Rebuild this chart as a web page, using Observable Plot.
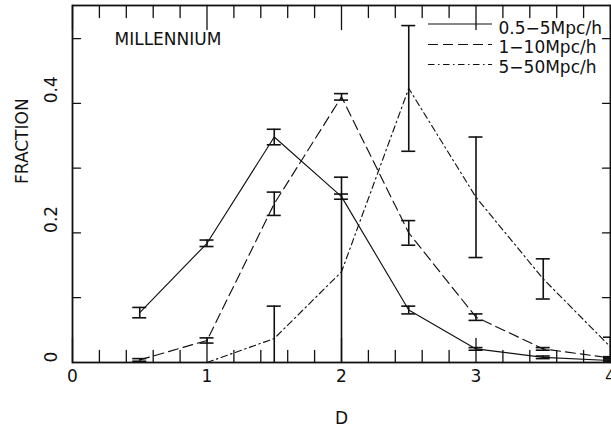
<!DOCTYPE html>
<html><head><meta charset="utf-8">
<script src="https://cdn.jsdelivr.net/npm/d3@7"></script>
<script src="https://cdn.jsdelivr.net/npm/@observablehq/plot@0.6"></script>
<style>body{margin:0;background:#fff}</style>
</head><body><div id="chart"></div>
<script>
// ---- data ----
const D = [0.5, 1, 1.5, 2, 2.5, 3, 3.5, 4];
const seriesNames = ["0.5−5Mpc/h", "1−10Mpc/h", "5−50Mpc/h"];
const fracSmall = [0.077, 0.184, 0.348, 0.256, 0.081, 0.021, 0.008, 0.003];
const errSmall  = [0.008, 0.005, 0.012, 0.004, 0.006, 0.002, 0.002, 0.001];
const fracMid   = [0.004, 0.034, 0.245, 0.410, 0.200, 0.070, 0.021, 0.007];
const errMid    = [0.002, 0.004, 0.018, 0.005, 0.019, 0.005, 0.002, 0.001];
const fracLarge = [null, 0.000, 0.037, 0.140, 0.423, 0.255, 0.129, 0.024];
const errLarge  = [null, 0.000, 0.050, 0.146, 0.097, 0.093, 0.031, 0.015];
const xTickLabels = [0, 1, 2, 3, 4];
const yTickLabels = [0, 0.2, 0.4];
const xMinorTicks = d3.range(0, 21).map(i => i / 5);
const yMinorTicks = [0.1, 0.2, 0.3, 0.4, 0.5];
const panelLabel = "MILLENNIUM";
const xLabel = "D";
const yLabel = "FRACTION";

// ---- layout ----
const W = 611, H = 434, mL = 72, mR = 1, mT = 5, mB = 72;
const xDom = [0, 4], yDom = [0, 0.551];
const px2x = px => xDom[0] + (px - mL) / (W - mL - mR) * (xDom[1] - xDom[0]);
const py2y = py => yDom[0] + (H - mB - py) / (H - mT - mB) * (yDom[1] - yDom[0]);

// ---- table ----
const fracs = [fracSmall, fracMid, fracLarge];
const errs = [errSmall, errMid, errLarge];
const rows = [];
seriesNames.forEach((s, k) => D.forEach((d, i) => {
  if (fracs[k][i] != null) rows.push({series: s, k, D: d, f: fracs[k][i], e: errs[k][i]});
}));
const bars = rows.filter(r => r.e > 0);
const dashes = ["none", "10,5", "6.5,3.5,1.5,3.5"];

const font = "DejaVu Sans";
const fs = 17;
const ink = "#111";

const tickShape = {draw(ctx, l) { ctx.moveTo(0, 0); ctx.lineTo(0, -l); }};
const isMajor = v => Math.abs(v - Math.round(v)) < 1e-9;

const marks = [];
// inward ticks on all four sides
marks.push(Plot.vector(xMinorTicks, {x: d => d, frameAnchor: "bottom", rotate: 0, anchor: "start", length: d => isMajor(d) ? 10 : 5, shape: tickShape, stroke: ink, strokeWidth: 1.3}));
marks.push(Plot.vector(xMinorTicks, {x: d => d, frameAnchor: "top", rotate: 180, anchor: "start", length: d => isMajor(d) ? 10 : 5, shape: tickShape, stroke: ink, strokeWidth: 1.3}));
marks.push(Plot.vector(yMinorTicks, {y: d => d, frameAnchor: "left", rotate: 90, anchor: "start", length: 8, shape: tickShape, stroke: ink, strokeWidth: 1.3}));
marks.push(Plot.vector(yMinorTicks, {y: d => d, frameAnchor: "right", rotate: -90, anchor: "start", length: 8, shape: tickShape, stroke: ink, strokeWidth: 1.3}));

// series lines
seriesNames.forEach((s, k) => {
  marks.push(Plot.line(rows.filter(r => r.k === k), {x: "D", y: "f", stroke: ink, strokeWidth: 1.15, strokeDasharray: dashes[k], clip: true}));
});
// error bars
marks.push(Plot.ruleX(bars, {x: "D", y1: r => r.f - r.e, y2: r => r.f + r.e, stroke: ink, strokeWidth: 1.6, clip: true}));
marks.push(Plot.ruleY(bars, {y: r => r.f + r.e, x1: "D", x2: "D", insetLeft: -7, insetRight: -7, stroke: ink, strokeWidth: 1.6, clip: true}));
marks.push(Plot.ruleY(bars, {y: r => r.f - r.e, x1: "D", x2: "D", insetLeft: -7, insetRight: -7, stroke: ink, strokeWidth: 1.6, clip: true}));

// frame
marks.push(Plot.frame({stroke: ink, strokeWidth: 1.8}));

// tick labels
marks.push(Plot.text(xTickLabels, {x: d => d, frameAnchor: "bottom", dy: 19, text: d => String(d), fontSize: fs, fontFamily: font, fill: ink}));
marks.push(Plot.text(yTickLabels, {y: d => d, frameAnchor: "left", dx: -21, rotate: -90, text: d => String(d), fontSize: fs, fontFamily: font, fill: ink}));
// axis labels
marks.push(Plot.text([xLabel], {frameAnchor: "bottom", dy: 61, text: d => d, fontSize: fs, fontFamily: font, fill: ink}));
marks.push(Plot.text([yLabel], {frameAnchor: "left", dx: -50, rotate: -90, text: d => d, fontSize: fs, fontFamily: font, fill: ink}));
// panel label
marks.push(Plot.text([panelLabel], {frameAnchor: "top-left", dx: 42, dy: 27, textAnchor: "start", text: d => d, fontSize: fs, fontFamily: font, fill: ink}));
// legend
const legLineY = [23.5, 44, 64];
const legTextY = [21, 40.5, 60];
seriesNames.forEach((s, k) => {
  marks.push(Plot.ruleY([py2y(legLineY[k])], {y: d => d, x1: px2x(428), x2: px2x(492), stroke: ink, strokeWidth: 1.15, strokeDasharray: dashes[k]}));
  marks.push(Plot.text([s], {frameAnchor: "top-left", dx: 498 - mL, dy: legTextY[k] - mT, textAnchor: "start", text: d => d, fontSize: fs, fontFamily: font, fill: ink}));
});

const chart = Plot.plot({
  width: W, height: H,
  marginLeft: mL, marginRight: mR, marginTop: mT, marginBottom: mB,
  x: {domain: xDom, axis: null},
  y: {domain: yDom, axis: null},
  style: {fontFamily: font, background: "#fff"},
  marks
});
document.getElementById("chart").appendChild(chart);
</script>
</body></html>
